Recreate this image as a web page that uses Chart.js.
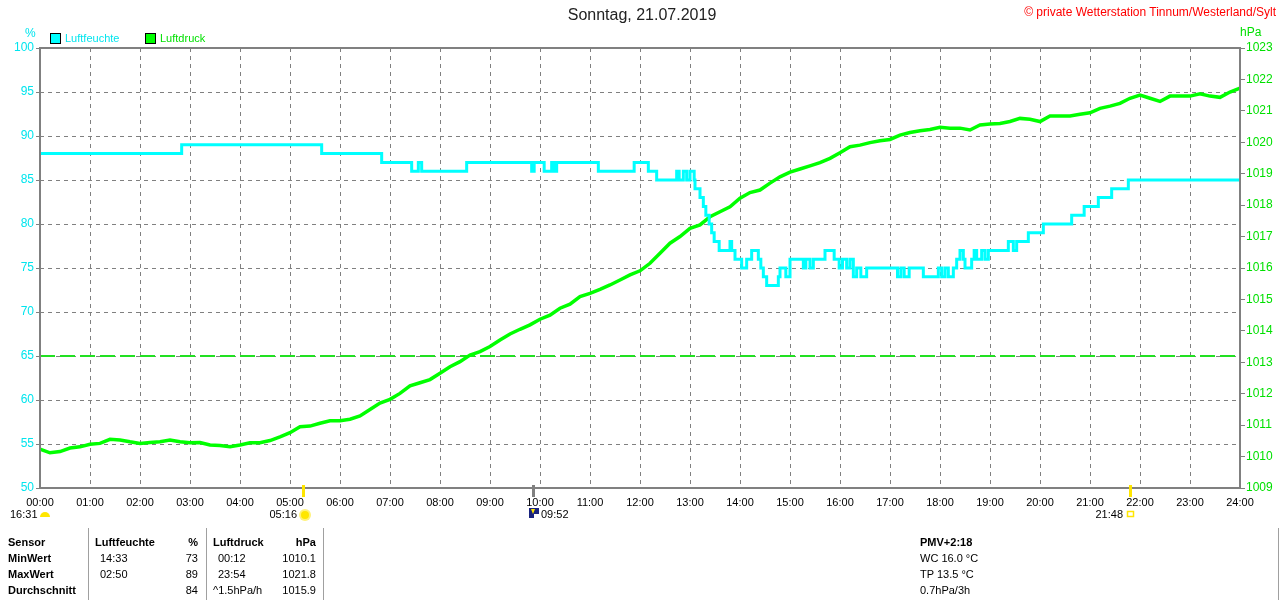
<!DOCTYPE html>
<html>
<head>
<meta charset="utf-8">
<script src="https://cdn.jsdelivr.net/npm/chart.js@4/dist/chart.umd.min.js"></script>
<style>
  body { margin: 0; background: #fff; font-family: "Liberation Sans", Arial, sans-serif; }
  #wrap { position: relative; width: 1280px; height: 600px; overflow: hidden; }
  #c { position: absolute; left: 0; top: 0; }
  .t { position: absolute; white-space: nowrap; font-size: 11px; line-height: 14px; }
  .b { font-weight: bold; }
  .r { text-align: right; }
  .sep { position: absolute; width: 1px; background: #a0a0a0; top: 528px; height: 72px; }
  .box { position: absolute; width: 9px; height: 9px; border: 1px solid #000; }
</style>
</head>
<body>
<div id="wrap">
  <canvas id="c" width="1280" height="600"></canvas>

  <div class="t" style="left:0;width:1284px;top:6px;text-align:center;font-size:16px;line-height:18px;color:#222;">Sonntag, 21.07.2019</div>
  <div class="t" style="right:4px;top:5px;font-size:12px;color:#ff0000;">© private Wetterstation Tinnum/Westerland/Sylt</div>

  <div class="t" style="left:25px;top:26px;font-size:12px;color:#00e5ee;">%</div>
  <div class="t" style="left:1240px;top:25px;font-size:12px;color:#00e000;">hPa</div>

  <div class="box" style="left:50px;top:33px;background:#00ffff;"></div>
  <div class="t" style="left:65px;top:31px;color:#00e5ee;">Luftfeuchte</div>
  <div class="box" style="left:145px;top:33px;background:#00ff00;"></div>
  <div class="t" style="left:160px;top:31px;color:#00e000;">Luftdruck</div>

  <div class="sep" style="left:88px;"></div>
  <div class="sep" style="left:206px;"></div>
  <div class="sep" style="left:323px;"></div>
  <div class="sep" style="left:1278px;"></div>

  <div class="t b" style="left:8px;top:535px;">Sensor</div>
  <div class="t b" style="left:8px;top:551px;">MinWert</div>
  <div class="t b" style="left:8px;top:567px;">MaxWert</div>
  <div class="t b" style="left:8px;top:583px;">Durchschnitt</div>

  <div class="t b" style="left:95px;top:535px;">Luftfeuchte</div>
  <div class="t b r" style="right:1082px;top:535px;">%</div>
  <div class="t" style="left:100px;top:551px;">14:33</div>
  <div class="t r" style="right:1082px;top:551px;">73</div>
  <div class="t" style="left:100px;top:567px;">02:50</div>
  <div class="t r" style="right:1082px;top:567px;">89</div>
  <div class="t r" style="right:1082px;top:583px;">84</div>

  <div class="t b" style="left:213px;top:535px;">Luftdruck</div>
  <div class="t b r" style="right:964px;top:535px;">hPa</div>
  <div class="t" style="left:218px;top:551px;">00:12</div>
  <div class="t r" style="right:964px;top:551px;">1010.1</div>
  <div class="t" style="left:218px;top:567px;">23:54</div>
  <div class="t r" style="right:964px;top:567px;">1021.8</div>
  <div class="t" style="left:213px;top:583px;">^1.5hPa/h</div>
  <div class="t r" style="right:964px;top:583px;">1015.9</div>

  <div class="t b" style="left:920px;top:535px;">PMV+2:18</div>
  <div class="t" style="left:920px;top:551px;">WC 16.0 °C</div>
  <div class="t" style="left:920px;top:567px;">TP 13.5 °C</div>
  <div class="t" style="left:920px;top:583px;">0.7hPa/3h</div>
</div>

<script>
// Luftfeuchte (%): change points, minutes since midnight
const humTimes = [0, 170, 338, 410, 446, 454, 458, 512, 590, 593, 605, 614, 617, 620, 670, 713, 730, 740,
  764, 767, 772, 776, 780, 785, 786, 792, 796, 799, 803, 806, 809, 815, 828, 830, 834, 842, 848, 854,
  862, 865, 868, 872, 886, 888, 895, 900, 916, 919, 924, 928, 942, 953, 959, 963, 968, 972, 976, 980,
  985, 992, 1029, 1033, 1037, 1043, 1060, 1078, 1082, 1086, 1090, 1096, 1100, 1104, 1108, 1110, 1118,
  1121, 1124, 1130, 1134, 1138, 1162, 1168, 1172, 1186, 1204, 1238, 1253, 1270, 1286, 1306, 1440];
const humValues = [88, 89, 88, 87, 86, 87, 86, 87, 86, 87, 86, 87, 86, 87, 86, 87, 86, 85,
  86, 85, 86, 85, 86, 85, 84, 83, 82, 81, 80, 79, 78, 77, 78, 77, 76, 75, 76, 77,
  76, 75, 74, 73, 74, 75, 74, 76, 75, 76, 75, 76, 77, 76, 75, 76, 75, 76, 74, 75,
  74, 75, 74, 75, 74, 75, 74, 75, 74, 75, 74, 75, 76, 77, 76, 75, 76,
  77, 76, 77, 76, 77, 78, 77, 78, 79, 80, 81, 82, 83, 84, 85, 85];

// Luftdruck (hPa): one reading every 12 minutes from 00:00 to 24:00
const pressStep = 12;
const pressValues = [
  1010.24, 1010.12, 1010.16, 1010.27, 1010.31, 1010.39, 1010.42, 1010.55, 1010.53, 1010.47,
  1010.42, 1010.45, 1010.47, 1010.53, 1010.47, 1010.44, 1010.45, 1010.37, 1010.35, 1010.31,
  1010.37, 1010.44, 1010.44, 1010.51, 1010.63, 1010.76, 1010.95, 1010.97, 1011.06, 1011.14,
  1011.14, 1011.19, 1011.29, 1011.50, 1011.70, 1011.82, 1012.01, 1012.25, 1012.35, 1012.45,
  1012.65, 1012.86, 1013.02, 1013.23, 1013.34, 1013.50, 1013.71, 1013.90, 1014.05, 1014.19,
  1014.37, 1014.50, 1014.72, 1014.85, 1015.09, 1015.19, 1015.32, 1015.46, 1015.62, 1015.78,
  1015.91, 1016.15, 1016.47, 1016.79, 1017.00, 1017.26, 1017.37, 1017.63, 1017.79, 1017.95,
  1018.22, 1018.40, 1018.48, 1018.70, 1018.90, 1019.05, 1019.15, 1019.25, 1019.35, 1019.49,
  1019.67, 1019.86, 1019.91, 1019.99, 1020.05, 1020.09, 1020.23, 1020.31, 1020.37, 1020.41,
  1020.48, 1020.45, 1020.45, 1020.39, 1020.55, 1020.58, 1020.60, 1020.66, 1020.76, 1020.73,
  1020.66, 1020.84, 1020.84, 1020.84, 1020.89, 1020.94, 1021.08, 1021.15, 1021.24, 1021.40,
  1021.50, 1021.40, 1021.30, 1021.47, 1021.47, 1021.47, 1021.54, 1021.47, 1021.43, 1021.60,
  1021.72];

// green dashed reference line (left axis, %)
const refLevel = 65;

// markers below the time axis (minutes since midnight)
const markerTimes = [316, 592, 1308];
const markerLabels = ["05:16", "09:52", "21:48"];
const leftLabel = "16:31";

const FONT = '"Liberation Sans", Arial, sans-serif';
Chart.defaults.font.family = FONT;

function hhmm(v) {
  const h = v / 60;
  return (h < 10 ? "0" : "") + h + ":00";
}

const humData = humTimes.map((t, i) => ({ x: t, y: humValues[i] }));
const pressData = pressValues.map((v, i) => ({ x: i * pressStep, y: v }));

const extras = {
  id: "extras",
  afterDraw(chart) {
    const ctx = chart.ctx;
    const a = chart.chartArea;
    const x = chart.scales.x;
    ctx.save();
    // frame
    ctx.strokeStyle = "#808080";
    ctx.lineWidth = 2;
    ctx.strokeRect(a.left, a.top, a.right - a.left, a.bottom - a.top);

    // marker ticks
    const px = markerTimes.map(t => Math.round(x.getPixelForValue(t)));
    const tickCol = ["#ffe600", "#808080", "#ffe600"];
    px.forEach((p, i) => {
      ctx.fillStyle = tickCol[i];
      ctx.fillRect(p - 1, a.bottom - 3, 3, 12);
    });

    ctx.font = "11px " + FONT;
    ctx.fillStyle = "#000";
    ctx.textBaseline = "middle";
    const ty = 515;
    // left label with half sun
    ctx.textAlign = "left";
    ctx.fillText(leftLabel, 10, ty);
    ctx.fillStyle = "#ffe600";
    ctx.beginPath();
    ctx.arc(45, 517, 5, Math.PI, 0);
    ctx.fill();

    // sunrise
    ctx.fillStyle = "#000";
    ctx.textAlign = "right";
    ctx.fillText(markerLabels[0], px[0] - 6, ty);
    ctx.fillStyle = "#fff27a";
    ctx.beginPath();
    ctx.arc(px[0] + 2, 515, 6, 0, Math.PI * 2);
    ctx.fill();
    ctx.fillStyle = "#ffe600";
    ctx.beginPath();
    ctx.arc(px[0] + 2, 515, 4, 0, Math.PI * 2);
    ctx.fill();

    // noon marker icon
    ctx.fillStyle = "#1a237e";
    ctx.fillRect(px[1] - 4, 508, 10, 10);
    ctx.fillStyle = "#ffe600";
    ctx.beginPath();
    ctx.moveTo(px[1] - 2, 509);
    ctx.lineTo(px[1] + 2, 509);
    ctx.lineTo(px[1], 514);
    ctx.fill();
    ctx.fillStyle = "#fff";
    ctx.fillRect(px[1] + 1, 514, 5, 4);
    ctx.fillStyle = "#000";
    ctx.textAlign = "left";
    ctx.fillText(markerLabels[1], px[1] + 8, ty);

    // sunset
    ctx.textAlign = "right";
    ctx.fillText(markerLabels[2], px[2] - 7, ty);
    ctx.strokeStyle = "#ffe600";
    ctx.lineWidth = 1.5;
    ctx.strokeRect(px[2] - 2.5, 511.5, 6, 5);
    ctx.restore();
  }
};

new Chart(document.getElementById("c"), {
  type: "line",
  data: {
    datasets: [
      {
        label: "Luftfeuchte",
        data: humData,
        yAxisID: "y",
        stepped: true,
        borderColor: "#00ffff",
        borderWidth: 3,
        pointRadius: 0,
        fill: false
      },
      {
        label: "Luftdruck",
        data: pressData,
        yAxisID: "y1",
        borderColor: "#00ff00",
        borderWidth: 3.5,
        pointRadius: 0,
        tension: 0,
        fill: false
      },
      {
        label: "ref",
        data: [{ x: 0, y: refLevel }, { x: 1440, y: refLevel }],
        yAxisID: "y",
        borderColor: "#22e022",
        borderWidth: 2,
        borderDash: [15, 5],
        pointRadius: 0,
        fill: false
      }
    ]
  },
  options: {
    responsive: false,
    animation: false,
    layout: { padding: { top: 48, bottom: 0, left: 0, right: 0 } },
    plugins: { legend: { display: false }, tooltip: { enabled: false }, title: { display: false } },
    scales: {
      x: {
        type: "linear",
        min: 0,
        max: 1440,
        afterFit: s => { s.height = 112; },
        ticks: {
          stepSize: 60,
          autoSkip: false,
          maxRotation: 0,
          padding: 8,
          color: "#000",
          font: { size: 11 },
          callback: hhmm
        },
        grid: { color: "#808080", lineWidth: 1, drawTicks: false },
        border: { display: false, dash: [4, 4] }
      },
      y: {
        position: "left",
        min: 50,
        max: 100,
        afterFit: s => { s.width = 40; },
        ticks: { stepSize: 5, color: "#00e5ee", font: { size: 12 }, padding: 2, callback: v => String(v) },
        grid: { color: "#808080", lineWidth: 1, tickLength: 4, tickColor: "#808080" },
        border: { display: false, dash: [4, 4] }
      },
      y1: {
        position: "right",
        min: 1009,
        max: 1023,
        afterFit: s => { s.width = 40; },
        ticks: { stepSize: 1, color: "#00e000", font: { size: 12 }, padding: 1, callback: v => String(v) },
        grid: { drawOnChartArea: false, tickLength: 5, tickColor: "#808080" },
        border: { display: false }
      }
    }
  },
  plugins: [extras]
});
</script>
</body>
</html>
